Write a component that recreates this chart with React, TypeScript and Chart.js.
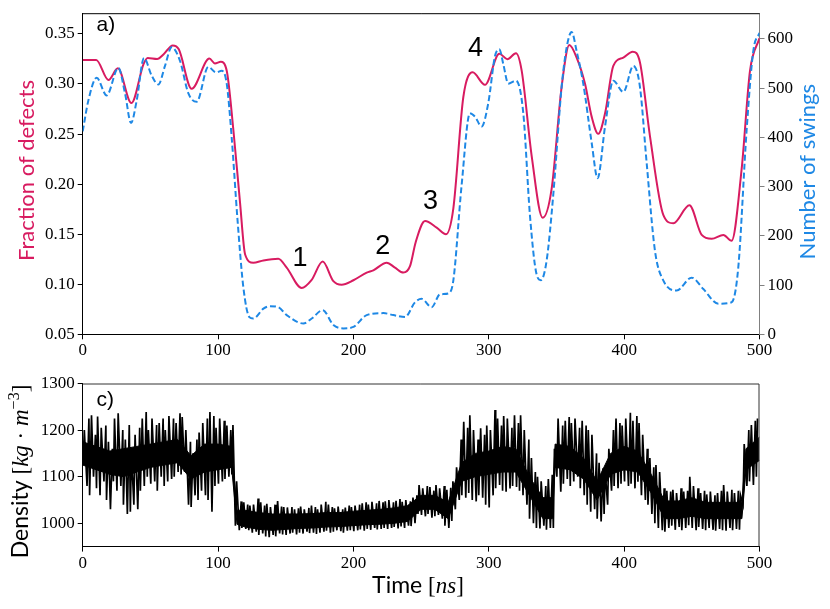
import React, { useEffect, useRef } from "react";
import { Chart, registerables } from "chart.js";

Chart.register(...registerables);

// ---------- data ----------
const defectTime = [0, 10, 19, 26, 36, 45, 48, 55, 60, 66.5, 71, 80.5, 93.6, 97.7, 102, 106.4, 111.3, 116.2, 120, 126, 133.5, 144.5, 150.7, 161.8, 169, 177.3, 185, 191.3, 200, 209.8, 214.7, 224.6, 230.7, 236.9, 241.8, 246, 252.9, 261.5, 268.4, 273.8, 281.2, 288.1, 297.2, 307.8, 313.7, 320.1, 324.3, 331.7, 339.8, 346.4, 353.8, 359.5, 364.9, 371.1, 376, 380.9, 385.9, 392, 399.4, 406.3, 411.7, 419.1, 429, 436.4, 448.2, 457.3, 464.7, 473.3, 479.4, 486.8, 493, 500];
const defectFraction = [0.324, 0.324, 0.304, 0.3156, 0.281, 0.32, 0.326, 0.325, 0.33, 0.3385, 0.3346, 0.2952, 0.3254, 0.3205, 0.3221, 0.3133, 0.2543, 0.182, 0.1297, 0.1215, 0.1238, 0.1254, 0.1166, 0.0962, 0.104, 0.1226, 0.1034, 0.0995, 0.104, 0.1116, 0.1139, 0.1215, 0.1166, 0.1116, 0.118, 0.142, 0.1631, 0.1566, 0.15, 0.1756, 0.287, 0.3116, 0.2992, 0.3303, 0.3248, 0.3307, 0.3133, 0.228, 0.1664, 0.195, 0.2969, 0.3389, 0.3264, 0.3002, 0.2674, 0.2503, 0.2707, 0.3182, 0.3264, 0.3323, 0.3215, 0.2477, 0.169, 0.1609, 0.1789, 0.1493, 0.1454, 0.1493, 0.1434, 0.215, 0.3133, 0.346];

const swingTime = [0, 4.2, 10.3, 17.7, 26.3, 31.3, 35.7, 39.9, 45.3, 51, 55.9, 60.8, 65.7, 71.9, 78.1, 84.2, 92.8, 98.5, 102.7, 106.4, 110, 114.3, 118.7, 123.1, 126, 133.5, 138.4, 144.5, 150.7, 163, 169.2, 177.3, 185.2, 192.6, 200, 209.8, 222.1, 229.5, 238.1, 245.5, 250.4, 257.8, 263.9, 270.1, 273.8, 279.9, 286.1, 289.8, 294.7, 299.6, 304.6, 307.8, 310.7, 314.4, 320.1, 325.5, 330.4, 335.3, 338.5, 342.7, 347.6, 353.8, 357.5, 361.2, 364.9, 369.8, 376, 380.4, 385.9, 392, 399.4, 406.8, 411.7, 416.6, 422.8, 429, 438.8, 449.9, 458.5, 469.6, 479.4, 484.3, 490.5, 495.4, 500];
const swingCount = [412, 475, 521, 485, 541, 489, 429, 475, 561, 525, 507, 545, 583, 555, 489, 472, 543, 532, 535, 509, 402, 235, 95, 35, 32, 52, 57, 55, 39, 22, 32, 49, 19, 12, 15, 39, 43, 39, 35, 65, 72, 55, 81, 83, 109, 302, 449, 442, 422, 469, 565, 579, 549, 509, 515, 449, 242, 122, 110, 149, 282, 502, 582, 614, 575, 509, 389, 317, 422, 515, 492, 545, 502, 349, 169, 109, 89, 115, 92, 62, 65, 135, 415, 575, 612];

// density fluctuation extremes, one high and one low value per 2.5 ns bin (0 ... 497.5 ns)
const densityBinNs = 2.5;
const densityHigh = [
  1200, 1225, 1232, 1190, 1229, 1205, 1210, 1175, 1160, 1225,
  1236, 1200, 1180, 1211, 1150, 1190, 1205, 1225, 1239, 1200,
  1225, 1211, 1215, 1225, 1200, 1230, 1225, 1215, 1236, 1228,
  1200, 1175, 1150, 1180, 1195, 1215, 1225, 1239, 1230, 1205,
  1225, 1220, 1210, 1200, 1211, 1090, 1047, 1045, 1040, 1038,
  1040, 1053, 1045, 1038, 1042, 1035, 1040, 1048, 1036, 1035,
  1034, 1035, 1030, 1032, 1036, 1030, 1033, 1038, 1035, 1030,
  1040, 1046, 1040, 1035, 1032, 1036, 1030, 1034, 1038, 1035,
  1038, 1040, 1043, 1045, 1040, 1046, 1043, 1048, 1045, 1047,
  1050, 1045, 1048, 1052, 1046, 1050, 1047, 1055, 1060, 1082,
  1075, 1080, 1078, 1070, 1082, 1075, 1080, 1072, 1076, 1090,
  1120, 1180, 1218, 1205, 1232, 1200, 1180, 1204, 1190, 1210,
  1200, 1243, 1225, 1210, 1230, 1225, 1205, 1232, 1215, 1232,
  1200, 1180, 1140, 1110, 1100, 1090, 1080, 1095, 1104, 1160,
  1225, 1210, 1220, 1228, 1215, 1225, 1205, 1220, 1210, 1200,
  1190, 1150, 1130, 1118, 1111, 1160, 1200, 1225, 1215, 1210,
  1225, 1237, 1220, 1230, 1215, 1190, 1160, 1140, 1120, 1125,
  1110, 1075, 1070, 1068, 1072, 1065, 1075, 1068, 1070, 1100,
  1080, 1075, 1065, 1070, 1062, 1068, 1060, 1065, 1070, 1082,
  1068, 1072, 1065, 1070, 1060, 1170, 1200, 1211, 1220, 1225,
];
const densityLow = [
  1130, 1080, 1060, 1100, 1075, 1060, 1090, 1050, 1030, 1090,
  1070, 1080, 1040, 1020, 1025, 1040, 1030, 1070, 1080, 1100,
  1085, 1090, 1070, 1100, 1080, 1090, 1095, 1100, 1110, 1105,
  1110, 1040, 1035, 1060, 1050, 1070, 1060, 1050, 1025, 1080,
  1085, 1090, 1095, 1100, 1105, 995, 985, 990, 988, 985,
  980, 982, 975, 978, 972, 970, 975, 972, 978, 976,
  975, 978, 980, 976, 980, 978, 982, 979, 980, 977,
  980, 982, 984, 980, 982, 985, 983, 980, 984, 985,
  983, 985, 987, 984, 988, 986, 990, 987, 988, 990,
  988, 990, 992, 989, 993, 990, 995, 994, 1000, 1020,
  1018, 1015, 1020, 1012, 1015, 1018, 1010, 995, 990, 1005,
  1030, 1050, 1060, 1055, 1065, 1050, 1047, 1060, 1055, 1040,
  1034, 1060, 1075, 1082, 1070, 1068, 1075, 1080, 1078, 1070,
  1060, 1040, 1010, 1000, 990, 989, 995, 986, 990, 990,
  1100, 1068, 1085, 1095, 1080, 1090, 1100, 1075, 1060, 1040,
  1025, 1030, 1010, 1004, 1020, 1040, 1070, 1080, 1075, 1085,
  1090, 1080, 1085, 1075, 1089, 1060, 1050, 1040, 1020, 1000,
  990, 985, 982, 990, 995, 986, 992, 985, 990, 996,
  990, 985, 992, 988, 985, 990, 986, 984, 988, 985,
  984, 990, 985, 988, 986, 1040, 1080, 1090, 1082, 1100,
];

// dense (solid) core of the density trace
const coreTime = [0, 10, 20, 30, 40, 50, 60, 70, 80, 90, 100, 110, 114, 120, 130, 140, 150, 160, 170, 180, 190, 200, 210, 220, 230, 240, 250, 260, 270, 280, 290, 300, 310, 320, 330, 340, 347, 349, 360, 370, 380, 390, 400, 410, 420, 430, 440, 450, 460, 470, 480, 487, 490, 500];
const coreLow = [1125, 1115, 1105, 1100, 1110, 1120, 1125, 1130, 1095, 1110, 1115, 1120, 998, 992, 987, 985, 987, 989, 990, 992, 993, 995, 997, 998, 1000, 1004, 1030, 1030, 1010, 1090, 1100, 1105, 1110, 1110, 1060, 1010, 1010, 1120, 1115, 1095, 1050, 1105, 1115, 1110, 1065, 1010, 1010, 1015, 1010, 1010, 1010, 1010, 1115, 1135];
const coreHigh = [1175, 1165, 1155, 1160, 1165, 1170, 1175, 1180, 1145, 1170, 1170, 1165, 1028, 1028, 1023, 1020, 1020, 1020, 1021, 1023, 1023, 1026, 1028, 1030, 1033, 1038, 1060, 1060, 1045, 1130, 1150, 1155, 1165, 1160, 1100, 1055, 1055, 1170, 1165, 1140, 1090, 1150, 1165, 1155, 1105, 1048, 1048, 1055, 1045, 1045, 1045, 1045, 1160, 1185];

const timeTicks = [0, 100, 200, 300, 400, 500];
const fractionTicks = [0.05, 0.1, 0.15, 0.2, 0.25, 0.3, 0.35];
const swingTicks = [0, 100, 200, 300, 400, 500, 600];
const densityTicks = [1000, 1100, 1200, 1300];

const peakLabels = ["1", "2", "3", "4"];
const peakTime = [160.5, 221.6, 257, 290.2];
const peakFraction = [0.1283, 0.1398, 0.1846, 0.3375];

// ---------- styles ----------
const RED = "#d81b60";
const BLUE = "#1e88e5";
const SANS = "Lato, 'Open Sans', sans-serif";
const SERIF = "'Liberation Serif', 'DejaVu Serif', serif";
const ARIAL = "'Liberation Sans', Arial, sans-serif";
// sub-bin placement of the low / high extreme inside each 2.5 ns bin (drawing style only)
const LOW_PHASE = [0.3, 0.7, 0.1, 0.5, 0.2];
const HIGH_PHASE = [1.2, 2.1, 1.5, 1.9, 1.0];

Chart.defaults.font.family = SERIF;

type Part = { text: string; font: string; dy?: number };

function drawParts(ctx: CanvasRenderingContext2D, parts: Part[], x: number, y: number, rotate: boolean, color: string) {
  ctx.save();
  ctx.translate(x, y);
  if (rotate) ctx.rotate(-Math.PI / 2);
  ctx.fillStyle = color;
  ctx.textAlign = "left";
  ctx.textBaseline = "alphabetic";
  let total = 0;
  const widths = parts.map((p) => {
    ctx.font = p.font;
    const w = ctx.measureText(p.text).width;
    total += w;
    return w;
  });
  let cx = -total / 2;
  parts.forEach((p, i) => {
    ctx.font = p.font;
    ctx.fillText(p.text, cx, p.dy || 0);
    cx += widths[i];
  });
  ctx.restore();
}

function tickOpts(color = "#000") {
  return {
    color,
    font: { family: SERIF, size: 17 },
    padding: 3,
    maxRotation: 0,
    autoSkip: false,
  };
}

export default function App() {
  const topRef = useRef<HTMLCanvasElement | null>(null);
  const botRef = useRef<HTMLCanvasElement | null>(null);

  useEffect(() => {
    const topCanvas = topRef.current!;
    const botCanvas = botRef.current!;

    const topFrame = {
      id: "topFrame",
      afterDatasetsDraw(chart: any) {
        const { ctx, chartArea: a } = chart;
        ctx.save();
        ctx.strokeStyle = "#000";
        ctx.lineWidth = 1;
        ctx.beginPath();
        ctx.moveTo(a.left, a.top + 0.5);
        ctx.lineTo(a.right, a.top + 0.5);
        ctx.stroke();
        ctx.restore();
      },
      afterDraw(chart: any) {
        const ctx = chart.ctx as CanvasRenderingContext2D;
        drawParts(ctx, [{ text: "Fraction of defects", font: `22px ${SANS}` }], 34, 170.5, true, RED);
        drawParts(ctx, [{ text: "Number of swings", font: `22px ${SANS}` }], 815, 171.7, true, BLUE);
        ctx.save();
        ctx.fillStyle = "#000";
        ctx.font = `21px ${ARIAL}`;
        ctx.textAlign = "left";
        ctx.textBaseline = "alphabetic";
        ctx.fillText("a)", 96.5, 30.5);
        ctx.font = `27px ${ARIAL}`;
        ctx.textAlign = "center";
        const xs = chart.scales.x;
        const ys = chart.scales.y;
        peakLabels.forEach((t, i) => {
          ctx.fillText(t, xs.getPixelForValue(peakTime[i]), ys.getPixelForValue(peakFraction[i]) + 0.358 * 27);
        });
        ctx.restore();
      },
    };

    const top = new Chart(topCanvas, {
      type: "line",
      data: {
        datasets: [
          {
            label: "Number of swings",
            data: swingTime.map((t, i) => ({ x: t, y: swingCount[i] })),
            borderColor: BLUE,
            borderWidth: 2,
            borderDash: [6, 3],
            pointRadius: 0,
            cubicInterpolationMode: "monotone",
            yAxisID: "y2",
            fill: false,
          },
          {
            label: "Fraction of defects",
            data: defectTime.map((t, i) => ({ x: t, y: defectFraction[i] })),
            borderColor: RED,
            borderWidth: 2,
            pointRadius: 0,
            cubicInterpolationMode: "monotone",
            yAxisID: "y",
            fill: false,
          },
        ],
      },
      options: {
        animation: false,
        responsive: false,
        devicePixelRatio: 1,
        layout: { padding: { top: 8.3, left: 0, right: 0, bottom: 0 } },
        plugins: { legend: { display: false }, tooltip: { enabled: false } },
        scales: {
          x: {
            type: "linear",
            min: 0,
            max: 500,
            afterBuildTicks: (s: any) => { s.ticks = timeTicks.map((v) => ({ value: v })); },
            afterFit: (s: any) => { s.height = 360 - 334.3; },
            grid: { display: true, drawOnChartArea: false, tickLength: 5, color: "#000" },
            border: { display: true, color: "#000" },
            ticks: { ...tickOpts(), padding: 1.5 },
          },
          y: {
            type: "linear",
            position: "left",
            min: 0.05,
            max: 0.3707,
            afterBuildTicks: (s: any) => { s.ticks = fractionTicks.map((v) => ({ value: v })); },
            afterFit: (s: any) => { s.width = 82.7; },
            grid: { display: true, drawOnChartArea: false, tickLength: 5, color: "#000" },
            border: { display: true, color: "#000" },
            ticks: { ...tickOpts(), callback: (v: any) => Number(v).toFixed(2) },
          },
          y2: {
            type: "linear",
            position: "right",
            min: 0,
            max: 652,
            afterBuildTicks: (s: any) => { s.ticks = swingTicks.map((v) => ({ value: v })); },
            afterFit: (s: any) => { s.width = 830 - 759.5; },
            grid: { display: true, drawOnChartArea: false, tickLength: 5, color: "#808080" },
            border: { display: true, color: "#808080" },
            ticks: { ...tickOpts(), callback: (v: any) => String(v) },
          },
        },
      },
      plugins: [topFrame],
    } as any);

    const zig: { x: number; y: number }[] = [];
    densityHigh.forEach((hi, i) => {
      const t = i * densityBinNs;
      zig.push({ x: t + LOW_PHASE[i % 5], y: densityLow[i] });
      zig.push({ x: t + HIGH_PHASE[i % 5], y: hi });
    });

    const botFrame = {
      id: "botFrame",
      afterDatasetsDraw(chart: any) {
        const { ctx, chartArea: a } = chart;
        ctx.save();
        ctx.strokeStyle = "#333";
        ctx.lineWidth = 1;
        ctx.beginPath();
        ctx.moveTo(a.left, a.top + 0.5);
        ctx.lineTo(a.right - 0.5, a.top + 0.5);
        ctx.lineTo(a.right - 0.5, a.bottom);
        ctx.stroke();
        ctx.restore();
      },
      afterDraw(chart: any) {
        const ctx = chart.ctx as CanvasRenderingContext2D;
        const off = 360;
        drawParts(
          ctx,
          [
            { text: "Density ", font: `23px ${SANS}` },
            { text: "[", font: `23px ${SERIF}` },
            { text: "kg", font: `italic 23px ${SERIF}` },
            { text: " \u00b7 ", font: `23px ${SERIF}` },
            { text: "m", font: `italic 23px ${SERIF}` },
            { text: "\u22123", font: `16px ${SERIF}`, dy: -9 },
            { text: "]", font: `23px ${SERIF}` },
          ],
          28,
          471.5 - off,
          true,
          "#000"
        );
        drawParts(
          ctx,
          [
            { text: "Time ", font: `23px ${SANS}` },
            { text: "[", font: `23px ${SERIF}` },
            { text: "ns", font: `italic 23px ${SERIF}` },
            { text: "]", font: `23px ${SERIF}` },
          ],
          418,
          593 - off,
          false,
          "#000"
        );
        ctx.save();
        ctx.fillStyle = "#000";
        ctx.font = `21px ${ARIAL}`;
        ctx.textAlign = "left";
        ctx.textBaseline = "alphabetic";
        ctx.fillText("c)", 96.5, 405.5 - off);
        ctx.restore();
      },
    };

    const bot = new Chart(botCanvas, {
      type: "line",
      data: {
        datasets: [
          {
            label: "Density",
            data: zig,
            borderColor: "#000",
            borderWidth: 1.7,
            pointRadius: 0,
            tension: 0,
            fill: false,
          },
          {
            label: "core high",
            data: coreTime.map((t, i) => ({ x: t, y: coreHigh[i] })),
            borderColor: "#000",
            borderWidth: 1,
            backgroundColor: "#000",
            pointRadius: 0,
            tension: 0,
            fill: "+1",
          },
          {
            label: "core low",
            data: coreTime.map((t, i) => ({ x: t, y: coreLow[i] })),
            borderColor: "#000",
            borderWidth: 1,
            pointRadius: 0,
            tension: 0,
            fill: false,
          },
        ],
      },
      options: {
        animation: false,
        responsive: false,
        devicePixelRatio: 1,
        layout: { padding: { top: 383.5 - 360, left: 0, right: 830 - 759.5, bottom: 0 } },
        plugins: { legend: { display: false }, tooltip: { enabled: false } },
        scales: {
          x: {
            type: "linear",
            min: 0,
            max: 500,
            afterBuildTicks: (s: any) => { s.ticks = timeTicks.map((v) => ({ value: v })); },
            afterFit: (s: any) => { s.height = 609 - 546.6; },
            grid: { display: true, drawOnChartArea: false, tickLength: 5, color: "#000" },
            border: { display: true, color: "#000" },
            ticks: { ...tickOpts(), padding: 1.5 },
          },
          y: {
            type: "linear",
            position: "left",
            min: 950,
            max: 1300,
            afterBuildTicks: (s: any) => { s.ticks = densityTicks.map((v) => ({ value: v })); },
            afterFit: (s: any) => { s.width = 82.7; },
            grid: { display: true, drawOnChartArea: false, tickLength: 5, color: "#000" },
            border: { display: true, color: "#000" },
            ticks: { ...tickOpts(), callback: (v: any) => String(v) },
          },
        },
      },
      plugins: [botFrame],
    } as any);

    return () => {
      top.destroy();
      bot.destroy();
    };
  }, []);

  return (
    <div style={{ position: "absolute", left: 0, top: 0, width: 830, height: 609, background: "#fff" }}>
      <canvas ref={topRef} width={830} height={360} style={{ position: "absolute", left: 0, top: 0, width: 830, height: 360 }} />
      <canvas ref={botRef} width={830} height={249} style={{ position: "absolute", left: 0, top: 360, width: 830, height: 249 }} />
    </div>
  );
}
